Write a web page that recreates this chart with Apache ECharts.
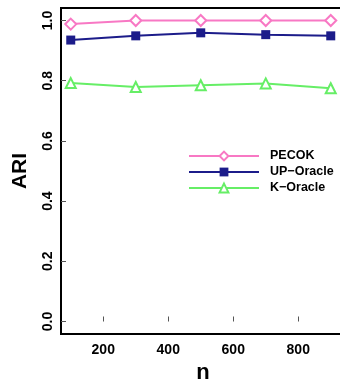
<!DOCTYPE html>
<html><head><meta charset="utf-8">
<script src="https://cdn.jsdelivr.net/npm/echarts@6/dist/echarts.min.js"></script>
<style>html,body{margin:0;padding:0;background:#fff}#c{width:340px;height:383px}</style>
</head><body><div id="c"></div>
<script>
var nValues = [100, 300, 500, 700, 900];
var pecok = [0.988, 1.0, 1.0, 1.0, 1.0];
var upOracle = [0.935, 0.949, 0.959, 0.953, 0.949];
var kOracle = [0.792, 0.779, 0.785, 0.791, 0.775];
var xTicks = [200, 400, 600, 800];
var yTicks = [0.0, 0.2, 0.4, 0.6, 0.8, 1.0];

function pairs(vals){ return nValues.map(function(n,i){ return [n, vals[i]]; }); }
var FONT = '"Liberation Sans", Arial, sans-serif';
var chart = echarts.init(document.getElementById('c'), null, {renderer:'canvas'});
function mk(name, data, color, symbol, size, filled){
  return {name:name, type:'line', data:pairs(data), symbol:symbol, symbolSize:size,
    showAllSymbol:true,
    lineStyle:{color:color, width:2}, 
    itemStyle:{color: filled ? color : '#fff', borderColor:color, borderWidth: filled?0:2},
    emphasis:{disabled:true}, animation:false, z:3};
}
chart.setOption({
  animation:false,
  grid:{left:61, top:8, width:284, height:326, outerBoundsMode:'none', containLabel:false,
    show:true, borderColor:'#000', borderWidth:2, backgroundColor:'transparent'},
  xAxis:{type:'value', min:70, max:70+284/0.325, name:'n', nameLocation:'middle', nameGap:26,
    nameTextStyle:{fontFamily:FONT, fontWeight:'bold', fontSize:22, color:'#000'},
    axisLine:{show:false}, splitLine:{show:false},
    axisTick:{show:true, inside:true, length:5, customValues:xTicks, lineStyle:{color:'#555', width:1}},
    axisLabel:{customValues:xTicks, margin:9, fontFamily:FONT, fontWeight:'bold', fontSize:14, color:'#000'}},
  yAxis:{type:'value', min:-0.0415, max:1.0415, name:'ARI', nameLocation:'middle', nameGap:30, nameRotate:90,
    nameTextStyle:{fontFamily:FONT, fontWeight:'bold', fontSize:21, color:'#000'},
    axisLine:{show:false}, splitLine:{show:false},
    axisTick:{show:true, inside:true, length:5, customValues:yTicks, lineStyle:{color:'#555', width:1}},
    axisLabel:{customValues:yTicks, rotate:90, margin:6, fontFamily:FONT, fontWeight:'bold', fontSize:14, color:'#000',
      formatter:function(v){ return v.toFixed(1); }}},
  legend:{orient:'vertical', left:188, top:149, padding:0, itemWidth:70, itemHeight:11, itemGap:2,
    textStyle:{fontFamily:FONT, fontWeight:'bold', fontSize:12.5, lineHeight:14, color:'#000', padding:[0,0,0,6]},
    data:['PECOK','UP\u2212Oracle','K\u2212Oracle']},
  series:[
    mk('PECOK', pecok, '#F878C4', 'diamond', 11, false),
    mk('UP\u2212Oracle', upOracle, '#1C1C8A', 'rect', 9, true),
    mk('K\u2212Oracle', kOracle, '#66EE66', 'triangle', 10, false)
  ]
});
</script></body></html>
